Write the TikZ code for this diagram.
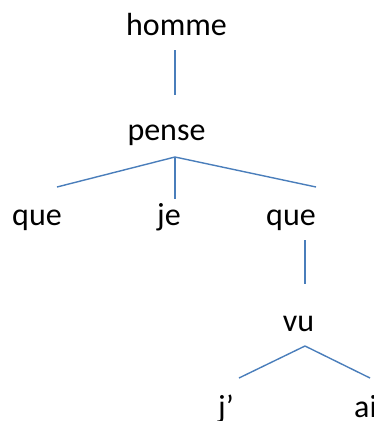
\documentclass[tikz,border=0pt]{standalone}
\usepackage{fontspec}
\setmainfont{Carlito}
\definecolor{linkblue}{HTML}{4A7EBB}
\begin{document}
\begin{tikzpicture}[x=1pt,y=-1pt,
  word/.style={inner sep=0pt,anchor=base,font=\fontsize{32}{38}\selectfont},
  link/.style={draw=linkblue,line width=1.4pt}]
\useasboundingbox (0,0) rectangle (374,421);
\clip (0,0) rectangle (374,421);
\node[word] (homme) at (176.5,35) {homme};
\node[word] (pense) at (166.5,140) {pense};
\node[word] (que1) at (37,225) {que};
\node[word] (je) at (169,225) {je};
\node[word] (que2) at (291,225) {que};
\node[word] (vu) at (298.5,331) {vu};
\node[word] (j) at (226,417) {j’};
\node[word,anchor=base west] (ai) at (354,417) {ai};
% connector end points
\coordinate (h1) at (175,50);
\coordinate (p0) at (175,95);
\coordinate (pt) at (175,157);
\coordinate (c1) at (57,187);
\coordinate (c2) at (175,199);
\coordinate (c3) at (316,187);
\coordinate (q1) at (305,240);
\coordinate (v0) at (305,284);
\coordinate (vt) at (305,346);
\coordinate (d1) at (239,378);
\coordinate (d2) at (370,378);
\draw[link] (h1) -- (p0);
\draw[link] (pt) -- (c1);
\draw[link] (pt) -- (c2);
\draw[link] (pt) -- (c3);
\draw[link] (q1) -- (v0);
\draw[link] (vt) -- (d1);
\draw[link] (vt) -- (d2);
\end{tikzpicture}
\end{document}
